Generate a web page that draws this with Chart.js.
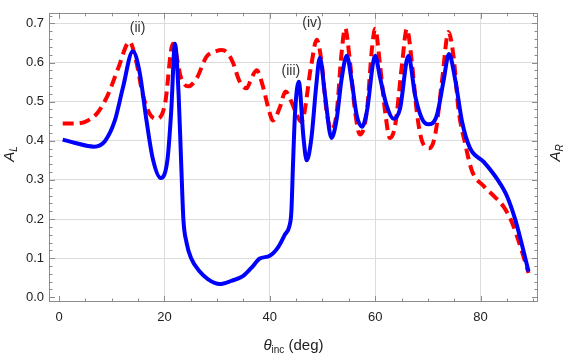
<!DOCTYPE html>
<html>
<head>
<meta charset="utf-8">
<script src="https://cdn.jsdelivr.net/npm/chart.js@4.4.0/dist/chart.umd.min.js"></script>
<style>
  html, body { margin: 0; padding: 0; background: #fff; }
</style>
</head>
<body>
<canvas id="myChart" width="565" height="354"></canvas>
<script>
// A_L (mavi, düz çizgi)
const thetaL = [0.7, 2.9, 6.6, 8.7, 10.6, 12.1, 14.0, 15.3, 16.6, 17.8, 19.3, 20.6, 21.3, 22.0, 22.7, 23.2, 23.6, 24.2, 25.1, 26.7, 28.3, 30.5, 32.7, 34.9, 36.5, 38.1, 40.0, 41.6, 42.9, 43.7, 44.1, 44.4, 44.8, 45.5, 46.4, 47.0, 47.9, 48.8, 49.5, 50.5, 51.7, 52.7, 53.6, 54.6, 55.6, 56.5, 57.5, 58.4, 60.0, 60.9, 62.2, 63.5, 64.7, 66.3, 67.6, 68.9, 70.1, 71.7, 73.0, 74.0, 75.2, 76.5, 78.0, 80.6, 83.1, 85.0, 86.6, 87.9, 89.1];
const valuesL = [0.403, 0.395, 0.385, 0.399, 0.452, 0.534, 0.629, 0.575, 0.452, 0.354, 0.305, 0.354, 0.477, 0.648, 0.518, 0.337, 0.200, 0.140, 0.099, 0.066, 0.046, 0.034, 0.042, 0.054, 0.075, 0.099, 0.106, 0.128, 0.161, 0.181, 0.220, 0.337, 0.473, 0.551, 0.407, 0.350, 0.407, 0.539, 0.612, 0.514, 0.407, 0.456, 0.555, 0.617, 0.547, 0.465, 0.436, 0.473, 0.617, 0.563, 0.489, 0.456, 0.481, 0.617, 0.514, 0.456, 0.442, 0.465, 0.555, 0.622, 0.555, 0.448, 0.381, 0.346, 0.303, 0.259, 0.198, 0.132, 0.066];

// A_R (kırmızı, kesikli çizgi)
const thetaR = [0.7, 3.3, 5.5, 7.4, 9.3, 11.2, 13.4, 14.7, 15.9, 17.2, 18.5, 20.1, 21.6, 23.2, 24.5, 26.1, 28.0, 29.6, 30.9, 32.0, 33.0, 34.3, 35.6, 36.5, 37.5, 38.7, 39.7, 40.6, 41.9, 43.0, 44.1, 45.0, 46.0, 47.9, 48.9, 49.8, 50.8, 51.7, 52.7, 53.6, 54.3, 55.2, 56.2, 57.1, 58.4, 59.4, 60.0, 60.9, 61.9, 62.8, 63.8, 65.1, 66.0, 67.0, 67.9, 68.9, 70.3, 71.4, 72.7, 73.9, 74.9, 75.8, 77.1, 78.4, 80.6, 82.5, 84.4, 86.0, 87.5, 89.1];
const valuesR = [0.444, 0.444, 0.452, 0.473, 0.518, 0.584, 0.653, 0.600, 0.518, 0.469, 0.456, 0.493, 0.648, 0.559, 0.539, 0.559, 0.615, 0.628, 0.632, 0.624, 0.600, 0.551, 0.534, 0.559, 0.580, 0.539, 0.485, 0.452, 0.485, 0.526, 0.500, 0.470, 0.448, 0.596, 0.658, 0.604, 0.473, 0.428, 0.473, 0.621, 0.688, 0.604, 0.473, 0.416, 0.473, 0.637, 0.686, 0.596, 0.473, 0.407, 0.440, 0.596, 0.686, 0.596, 0.473, 0.399, 0.381, 0.416, 0.555, 0.678, 0.612, 0.481, 0.391, 0.322, 0.284, 0.259, 0.231, 0.190, 0.132, 0.062];

// eksen etiketleri
const xTicks = [0, 20, 40, 60, 80];
const yTicks = [0.0, 0.1, 0.2, 0.3, 0.4, 0.5, 0.6, 0.7];
const xMinorStep = 5;
const yMinorStep = 0.02;

// grafik üzerindeki notlar
const noteLabels = ['(ii)', '(iii)', '(iv)'];
const noteX = [14.9, 44.0, 48.0];
const noteY = [0.687, 0.579, 0.700];

const FONT = '"Liberation Sans", Arial, sans-serif';
const FRAME = '#8c8c8c';

function toPoints(xs, ys) {
  return xs.map((x, i) => ({ x: x, y: ys[i] }));
}

// çerçeve, içe dönük tikler, eksen başlıkları ve notlar
const framePlugin = {
  id: 'framePlugin',
  afterDraw(chart) {
    const c = chart.ctx;
    const a = chart.chartArea;
    const xs = chart.scales.x;
    const ys = chart.scales.y;
    c.save();
    c.strokeStyle = FRAME;
    c.lineWidth = 1;
    c.strokeRect(Math.round(a.left) + 0.5, Math.round(a.top) + 0.5, Math.round(a.right - a.left) - 1, Math.round(a.bottom - a.top) - 1);

    c.beginPath();
    for (let v = 0; v <= xs.max; v += xMinorStep) {
      const px = Math.round(xs.getPixelForValue(v)) + 0.5;
      const len = (v % 20 === 0) ? 6 : 3.5;
      c.moveTo(px, a.bottom); c.lineTo(px, a.bottom - len);
      c.moveTo(px, a.top); c.lineTo(px, a.top + len);
    }
    for (let k = 0; k * yMinorStep <= ys.max; k++) {
      const v = k * yMinorStep;
      const py = Math.round(ys.getPixelForValue(v)) + 0.5;
      const len = (k % 5 === 0) ? 6 : 3.5;
      c.moveTo(a.left, py); c.lineTo(a.left + len, py);
      c.moveTo(a.right, py); c.lineTo(a.right - len, py);
    }
    c.stroke();

    // notlar
    c.fillStyle = '#333';
    c.font = '14px ' + FONT;
    c.textAlign = 'center';
    c.textBaseline = 'middle';
    noteLabels.forEach((t, i) => {
      c.fillText(t, xs.getPixelForValue(noteX[i]), ys.getPixelForValue(noteY[i]));
    });

    // x ekseni başlığı
    c.fillStyle = '#222';
    c.textAlign = 'left';
    c.textBaseline = 'alphabetic';
    const big = 'italic 15px ' + FONT;
    const sub = '10px ' + FONT;
    const norm = '15px ' + FONT;
    c.font = big; const w1 = c.measureText('θ').width;
    c.font = sub; const w2 = c.measureText('inc').width;
    c.font = norm; const w3 = c.measureText(' (deg)').width;
    let x0 = (a.left + a.right) / 2 - (w1 + w2 + w3) / 2;
    const base = 350;
    c.font = big; c.fillText('θ', x0, base); x0 += w1;
    c.font = sub; c.fillText('inc', x0, base + 3); x0 += w2;
    c.font = norm; c.fillText(' (deg)', x0, base);

    // y eksen başlıkları
    function sideLabel(cx, cy, main, low) {
      c.save();
      c.translate(cx, cy);
      c.rotate(-Math.PI / 2);
      c.font = 'italic 15px ' + FONT;
      const wa = c.measureText(main).width;
      c.font = 'italic 10px ' + FONT;
      const wb = c.measureText(low).width;
      const sx = -(wa + wb) / 2;
      c.textBaseline = 'middle';
      c.font = 'italic 15px ' + FONT;
      c.fillText(main, sx, 0);
      c.font = 'italic 10px ' + FONT;
      c.fillText(low, sx + wa, 4);
      c.restore();
    }
    sideLabel(10, 154, 'A', 'L');
    sideLabel(556, 153, 'A', 'R');
    c.restore();
  }
};

const ctx = document.getElementById('myChart').getContext('2d');
const chart = new Chart(ctx, {
  type: 'line',
  data: {
    datasets: [
      {
        label: 'A_L',
        data: toPoints(thetaL, valuesL),
        borderColor: '#0000ff',
        borderWidth: 4,
        pointRadius: 0,
        cubicInterpolationMode: 'monotone',
        fill: false,
        order: 0
      },
      {
        label: 'A_R',
        data: toPoints(thetaR, valuesR),
        borderColor: '#ff0000',
        borderWidth: 4,
        borderDash: [11, 6],
        pointRadius: 0,
        cubicInterpolationMode: 'monotone',
        fill: false,
        order: 1
      }
    ]
  },
  options: {
    responsive: false,
    animation: false,
    devicePixelRatio: 1,
    layout: { padding: { left: 0, right: 27, top: 2, bottom: 0 } },
    plugins: {
      legend: { display: false },
      tooltip: { enabled: false }
    },
    scales: {
      x: {
        type: 'linear',
        min: -1.9,
        max: 90.9,
        afterBuildTicks: s => { s.ticks = xTicks.map(v => ({ value: v })); },
        afterFit: s => { s.height = 52; },
        ticks: {
          padding: 8,
          color: '#222',
          font: { family: FONT, size: 13 },
          maxRotation: 0,
          callback: v => String(v)
        },
        grid: {
          drawTicks: false,
          color: ctx => ctx.tick && ctx.tick.value === 0 ? 'rgba(0,0,0,0)' : '#dcdcdc'
        },
        border: { display: false }
      },
      y: {
        type: 'linear',
        min: -0.012,
        max: 0.727,
        afterBuildTicks: s => { s.ticks = yTicks.map(v => ({ value: v })); },
        afterFit: s => { s.width = 49; },
        ticks: {
          padding: 5,
          color: '#222',
          font: { family: FONT, size: 13 },
          callback: v => Number(v).toFixed(1)
        },
        grid: {
          drawTicks: false,
          color: ctx => ctx.tick && ctx.tick.value === 0 ? 'rgba(0,0,0,0)' : '#dcdcdc'
        },
        border: { display: false }
      }
    }
  },
  plugins: [framePlugin]
});
</script>
</body>
</html>
